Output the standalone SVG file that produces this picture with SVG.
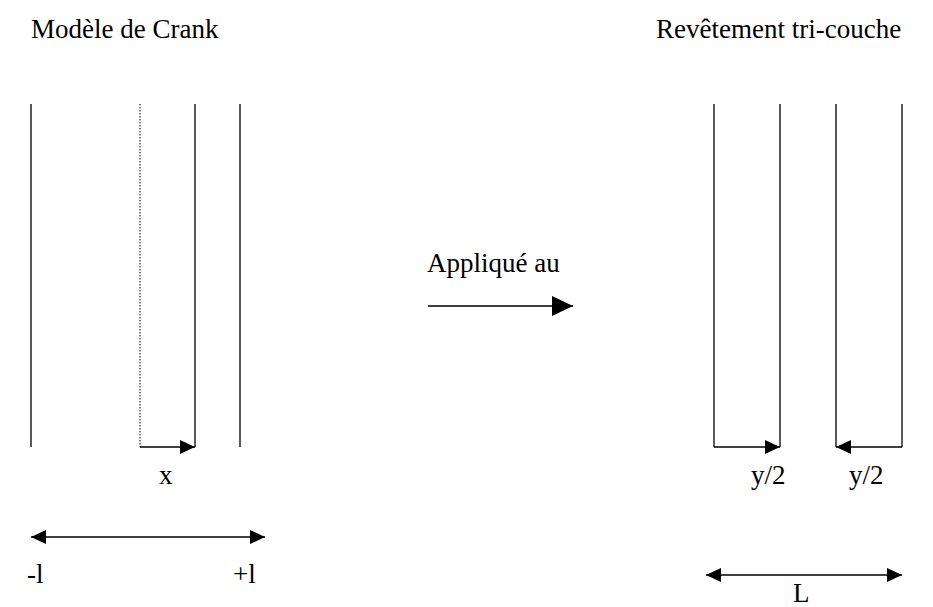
<svg xmlns="http://www.w3.org/2000/svg" width="933" height="607" viewBox="0 0 933 607">
<style>
text{font-family:"Liberation Serif","Times New Roman",serif;font-size:27px;fill:#000}
.l{stroke:#000;stroke-width:1.3;fill:none}
.d{stroke:#000;stroke-width:1;stroke-dasharray:1.5,1.5;fill:none}
</style>
<defs>
<marker id="ahb" viewBox="0 0 10 10" refX="10" refY="5" markerWidth="15" markerHeight="14" markerUnits="userSpaceOnUse" orient="auto-start-reverse" preserveAspectRatio="none"><path d="M0,0L10,5L0,10z" fill="#000"/></marker>
<marker id="ahl" viewBox="0 0 10 10" refX="10" refY="5" markerWidth="21" markerHeight="20" markerUnits="userSpaceOnUse" orient="auto" preserveAspectRatio="none"><path d="M0,0L10,5L0,10z" fill="#000"/></marker>
</defs>
<rect width="933" height="607" fill="#fff"/>
<g id="crank">
<text x="31" y="38">Modèle de Crank</text>
<line class="l" x1="31" y1="104" x2="31" y2="447"/>
<line class="d" x1="140" y1="104" x2="140" y2="447"/>
<line class="l" x1="195" y1="104" x2="195" y2="447"/>
<line class="l" x1="240" y1="104" x2="240" y2="447"/>
<text x="159" y="484">x</text>
<text x="27" y="583">-l</text>
<text x="233" y="583">+l</text>
</g>
<g id="tricouche">
<text x="656" y="38">Revêtement tri-couche</text>
<line class="l" x1="714" y1="104" x2="714" y2="447"/>
<line class="l" x1="780" y1="104" x2="780" y2="447"/>
<line class="l" x1="836" y1="104" x2="836" y2="447"/>
<line class="l" x1="902" y1="104" x2="902" y2="447"/>
<text x="751" y="484">y/2</text>
<text x="849" y="484">y/2</text>
<text x="793" y="602">L</text>
</g>
<g id="applique">
<text x="427" y="272">Appliqué au</text>
</g>
<g id="connectors">
<line class="l" x1="140" y1="447" x2="195" y2="447" marker-end="url(#ahb)"/>
<line class="l" x1="714" y1="447" x2="780" y2="447" marker-end="url(#ahb)"/>
<line class="l" x1="902" y1="447" x2="836" y2="447" marker-end="url(#ahb)"/>
<line class="l" x1="31" y1="537" x2="265" y2="537" marker-start="url(#ahb)" marker-end="url(#ahb)"/>
<line class="l" x1="706" y1="575" x2="902" y2="575" marker-start="url(#ahb)" marker-end="url(#ahb)"/>
<line class="l" x1="428" y1="306" x2="573" y2="306" marker-end="url(#ahl)"/>
</g>
</svg>
